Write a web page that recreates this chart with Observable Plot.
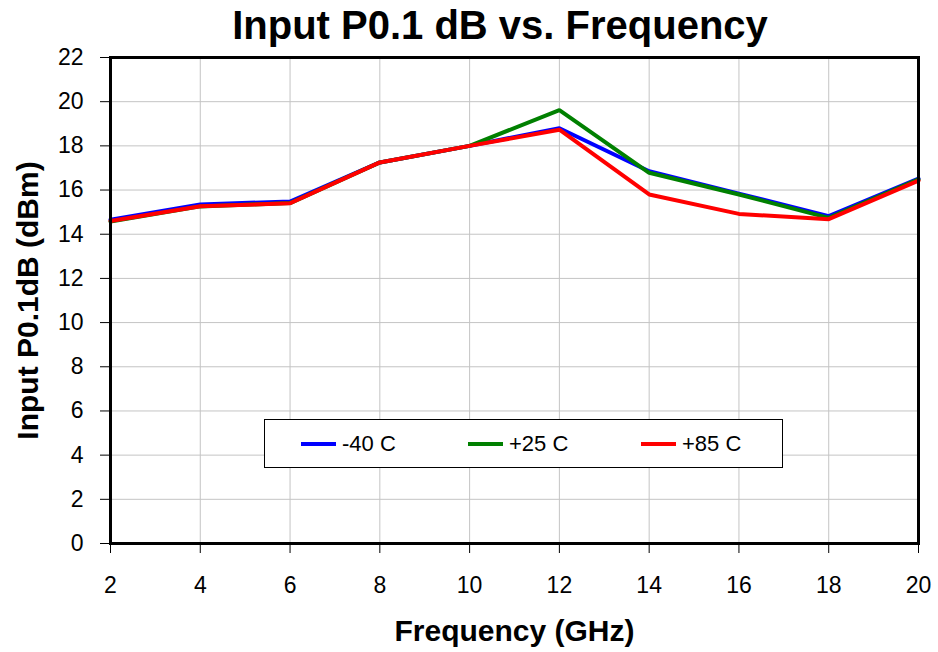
<!DOCTYPE html>
<html>
<head>
<meta charset="utf-8">
<script src="https://cdn.jsdelivr.net/npm/d3@7"></script>
<script src="https://cdn.jsdelivr.net/npm/@observablehq/plot@0.6"></script>
<style>
  body { margin: 0; background: #fff; font-family: "Liberation Sans", Arial, sans-serif; }
  #wrap { position: relative; width: 938px; height: 652px; }
  #title { position: absolute; left: 0; top: 0; width: 1000px; height: 50px; text-align: center;
           font-weight: bold; font-size: 40px; line-height: 50px; color: #000; }
  #chart { position: absolute; left: 0; top: 50px; }
  #legend { position: absolute; left: 264px; top: 419px; width: 517px; height: 47px; border: 1.5px solid #000;
            background: #fff; font-size: 22px; }
  .item { position: absolute; top: 0; height: 47px; display: flex; align-items: center; }
  .sw { display: inline-block; width: 35px; height: 4px; margin-right: 6px; }
</style>
</head>
<body>
<div id="wrap">
  <div id="title">Input P0.1 dB vs. Frequency</div>
  <div id="chart"></div>
  <div id="legend"></div>
</div>
<script>
const freqs = [2, 4, 6, 8, 10, 12, 14, 16, 18, 20];
const seriesNames = ["-40 C", "+25 C", "+85 C"];
const seriesColors = ["#0000ff", "#008000", "#ff0000"];
const m40 = [14.66, 15.35, 15.48, 17.25, 18.0, 18.8, 16.85, 15.84, 14.82, 16.52];
const p25 = [14.57, 15.26, 15.41, 17.25, 18.0, 19.62, 16.78, 15.8, 14.74, 16.48];
const p85 = [14.6, 15.27, 15.4, 17.25, 18.0, 18.73, 15.8, 14.92, 14.68, 16.43];
const xTicks = [2, 4, 6, 8, 10, 12, 14, 16, 18, 20];
const yTicks = [0, 2, 4, 6, 8, 10, 12, 14, 16, 18, 20, 22];
const xLabel = "Frequency (GHz)";
const yLabel = "Input P0.1dB (dBm)";

const allSeries = [m40, p25, p85];
const rows = [];
allSeries.forEach((vals, i) => vals.forEach((v, j) => rows.push({f: freqs[j], v, s: seriesNames[i]})));

const chart = Plot.plot({
  width: 938,
  height: 602,
  marginLeft: 110,
  marginRight: 20,
  marginTop: 7,
  marginBottom: 109,
  style: {fontFamily: '"Liberation Sans", Arial, sans-serif', fontSize: "23px", background: "#fff", color: "#000", overflow: "visible"},
  x: {domain: [2, 20]},
  y: {domain: [0, 22]},
  color: {domain: seriesNames, range: seriesColors},
  marks: [
    Plot.gridX(xTicks, {stroke: "#c4c4c4", strokeOpacity: 1, strokeWidth: 1}),
    Plot.gridY(yTicks, {stroke: "#c4c4c4", strokeOpacity: 1, strokeWidth: 1}),
    Plot.axisX(xTicks, {tickSize: 10, tickPadding: 23, label: null, stroke: "#000"}),
    Plot.axisY(yTicks, {tickSize: 10, tickPadding: 17, label: null, stroke: "#000"}),
    Plot.line(rows, {x: "f", y: "v", z: "s", stroke: "s", strokeWidth: 4, strokeLinejoin: "miter"}),
    Plot.frame({stroke: "#000", strokeWidth: 3}),
    Plot.text([yLabel], {frameAnchor: "left", dx: -82, rotate: -90, textAnchor: "middle", lineAnchor: "middle", fontSize: 30, fontWeight: "bold", fill: "#000"}),
    Plot.text([xLabel], {frameAnchor: "bottom", dy: 88, textAnchor: "middle", lineAnchor: "middle", fontSize: 30, fontWeight: "bold", fill: "#000"})
  ]
});
document.getElementById("chart").appendChild(chart);

const legend = document.getElementById("legend");
const lefts = [36, 203, 376];
seriesNames.forEach((n, i) => {
  const d = document.createElement("div");
  d.className = "item";
  d.style.left = lefts[i] + "px";
  d.innerHTML = `<span class="sw" style="background:${seriesColors[i]}"></span><span>${n}</span>`;
  legend.appendChild(d);
});
</script>
</body>
</html>
